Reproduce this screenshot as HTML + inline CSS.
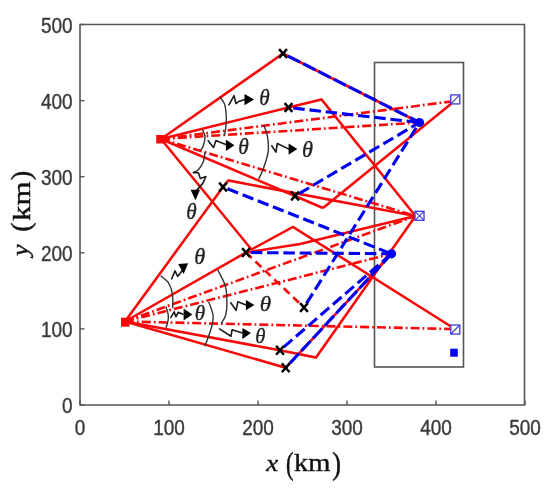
<!DOCTYPE html>
<html><head><meta charset="utf-8"><style>
html,body{margin:0;padding:0;background:#fff;}
svg{display:block;will-change:transform;}
.tk{font-family:"Liberation Sans",sans-serif;font-size:19px;fill:#3a3a3a;stroke:#3a3a3a;stroke-width:0.35px;}
.th{font-family:"Liberation Serif",serif;font-style:italic;font-size:100px;fill:#222;stroke:#222;stroke-width:1.5px;}
.lb{font-family:"Liberation Serif",serif;font-size:100px;fill:#111;stroke:#111;stroke-width:1.6px;}
.lbi{font-family:"Liberation Serif",serif;font-style:italic;font-size:100px;fill:#111;stroke:#111;stroke-width:1.6px;}
</style></head><body>
<svg width="550" height="490" viewBox="0 0 550 490">
<rect width="550" height="490" fill="#fff"/>
<rect x="374.5" y="62.5" width="89" height="304.5" fill="none" stroke="#555" stroke-width="1.6"/>
<line x1="161" y1="139" x2="451" y2="101.5" stroke="#f80808" stroke-width="2.6" stroke-dasharray="9 3 1.8 3" stroke-linecap="butt"/>
<line x1="161" y1="139" x2="419.5" y2="122.5" stroke="#f80808" stroke-width="2.6" stroke-dasharray="9 3 1.8 3" stroke-linecap="butt"/>
<line x1="161" y1="139" x2="415.5" y2="216" stroke="#f80808" stroke-width="2.6" stroke-dasharray="9 3 1.8 3" stroke-linecap="butt"/>
<line x1="125" y1="321.5" x2="415.5" y2="216" stroke="#f80808" stroke-width="2.6" stroke-dasharray="9 3 1.8 3" stroke-linecap="butt"/>
<line x1="125" y1="321.5" x2="391.5" y2="253.8" stroke="#f80808" stroke-width="2.6" stroke-dasharray="9 3 1.8 3" stroke-linecap="butt"/>
<line x1="125" y1="321.5" x2="451.5" y2="329" stroke="#f80808" stroke-width="2.6" stroke-dasharray="9 3 1.8 3" stroke-linecap="butt"/>
<polyline points="161,139 283,53.5 419.5,122.5" fill="none" stroke="#f80808" stroke-width="2.55" stroke-linejoin="miter"/>
<polyline points="161,139 288.5,107.5 321.5,99.5 415.5,216" fill="none" stroke="#f80808" stroke-width="2.55" stroke-linejoin="miter"/>
<polyline points="451.5,103.5 323,208" fill="none" stroke="#f80808" stroke-width="2.55" stroke-linejoin="miter"/>
<polyline points="161,139 295,196 323,208" fill="none" stroke="#f80808" stroke-width="2.55" stroke-linejoin="miter"/>
<polyline points="161,139 251.5,249.5 293,227 451,326.5" fill="none" stroke="#f80808" stroke-width="2.55" stroke-linejoin="miter"/>
<polyline points="125,321.5 223,187 228.4,180.5 415.5,216" fill="none" stroke="#f80808" stroke-width="2.55" stroke-linejoin="miter"/>
<polyline points="125,321.5 246,252.5 300,244.1 415.5,216" fill="none" stroke="#f80808" stroke-width="2.55" stroke-linejoin="miter"/>
<polyline points="125,321.5 280,350.3 316,357.5 415.5,216" fill="none" stroke="#f80808" stroke-width="2.55" stroke-linejoin="miter"/>
<polyline points="125,321.5 285.7,367.8 391.5,253.8" fill="none" stroke="#f80808" stroke-width="2.55" stroke-linejoin="miter"/>
<line x1="246" y1="252.5" x2="304" y2="307.5" stroke="#f80808" stroke-width="2.6" stroke-dasharray="8 5" stroke-linecap="butt"/>
<line x1="283" y1="53.5" x2="419.5" y2="122.5" stroke="#0000f0" stroke-width="3.1" stroke-dasharray="13.5 3.6" stroke-dashoffset="-5.6"/>
<line x1="285.7" y1="367.8" x2="391.5" y2="253.8" stroke="#0000f0" stroke-width="3.1" stroke-dasharray="13.5 3.6" stroke-dashoffset="-6"/>
<line x1="288.5" y1="107.5" x2="419.5" y2="122.5" stroke="#0000f0" stroke-width="3.1" stroke-dasharray="11.5 4.8" stroke-dashoffset="-4.8"/>
<line x1="295" y1="196" x2="419.5" y2="122.5" stroke="#0000f0" stroke-width="3.1" stroke-dasharray="11.5 4.8" stroke-dashoffset="-4.8"/>
<line x1="304" y1="307.5" x2="419.5" y2="122.5" stroke="#0000f0" stroke-width="3.1" stroke-dasharray="11.5 4.8" stroke-dashoffset="-4.8"/>
<line x1="223" y1="187" x2="391.5" y2="253.8" stroke="#0000f0" stroke-width="3.1" stroke-dasharray="11.5 4.8" stroke-dashoffset="-4.8"/>
<line x1="246" y1="252.5" x2="391.5" y2="253.8" stroke="#0000f0" stroke-width="3.1" stroke-dasharray="11.5 4.8" stroke-dashoffset="-4.8"/>
<line x1="280" y1="350.3" x2="391.5" y2="253.8" stroke="#0000f0" stroke-width="3.1" stroke-dasharray="11.5 4.8" stroke-dashoffset="-4.8"/>
<path d="M219.5,96.7C220.3,97.9 223.4,100.7 224.5,104C225.6,107.3 226.1,112.4 226.3,116.4C226.5,120.4 226.0,124.8 225.7,128C225.4,131.2 224.7,134.1 224.5,135.3" fill="none" stroke="#333" stroke-width="1.4"/>
<path d="M228.6,105.3 L234.1,95.7 L235.9,103.5 L238.6,101.6 L245,99.5" fill="none" stroke="#1a1a1a" stroke-width="1.6" stroke-linejoin="round"/>
<path d="M244.5,93.9 L244.5,105.3 L254.1,99.4Z" fill="#000"/>
<text x="0" y="0" class="th" transform="matrix(0.2119 0 0 0.2225 259.24 104.78)">θ</text>
<path d="M202.4,129.5C202.8,130.7 204.9,133.7 205,136.5C205.1,139.3 203.9,143.9 203.1,146.2C202.3,148.5 200.7,149.8 200.2,150.5" fill="none" stroke="#333" stroke-width="1.4"/>
<path d="M207.7,140.2 L213.6,147.5 L215.9,140.6 L219.5,142 L226.4,144.7" fill="none" stroke="#1a1a1a" stroke-width="1.6" stroke-linejoin="round"/>
<path d="M225.9,139.7 L225.9,151.1 L234.5,145.2Z" fill="#000"/>
<text x="0" y="0" class="th" transform="matrix(0.2143 0 0 0.2211 238.23 154.18)">θ</text>
<path d="M263.8,125.2C264.4,127.1 266.8,132.4 267.5,136.8C268.2,141.2 268.8,146.3 268.2,151.4C267.6,156.5 265.4,162.8 263.8,167.4C262.2,172.0 259.6,177.1 258.7,179" fill="none" stroke="#333" stroke-width="1.4"/>
<path d="M271.4,145.3 L275.9,152.1 L277.3,143.5 L289.5,149.4" fill="none" stroke="#1a1a1a" stroke-width="1.6" stroke-linejoin="round"/>
<path d="M288.6,143.5 L288.6,154.8 L297.3,148.9Z" fill="#000"/>
<text x="0" y="0" class="th" transform="matrix(0.2238 0 0 0.2338 301.88 156.97)">θ</text>
<path d="M205.1,151.5C204.8,153.1 204.6,158.3 203.5,161.3C202.4,164.3 200.4,167.6 198.6,169.5C196.8,171.4 193.8,172.2 192.9,172.8" fill="none" stroke="#333" stroke-width="1.4"/>
<path d="M192.9,172.6 L198.4,172.7 L200.3,178.4 L205.9,176.5 L202.8,183.4 L196.5,190.6" fill="none" stroke="#1a1a1a" stroke-width="1.6" stroke-linejoin="round"/>
<path d="M190.6,189.8 L200,189.8 L195.5,200.2Z" fill="#000"/>
<text x="0" y="0" class="th" transform="matrix(0.2119 0 0 0.2324 186.24 218.97)">θ</text>
<path d="M160.6,275.7C161.8,276.8 166.1,279.5 168,282.2C169.9,284.9 171.2,288.7 172,292C172.8,295.3 172.8,299.1 172.9,301.8C173.0,304.5 172.6,307.0 172.5,308" fill="none" stroke="#333" stroke-width="1.4"/>
<path d="M171.4,279.5 L175,270.9 L177.7,276.4 L182.3,270.5 L183,269.5" fill="none" stroke="#1a1a1a" stroke-width="1.6" stroke-linejoin="round"/>
<path d="M178.2,264.1 L183.6,274.1 L188.2,263.3Z" fill="#000"/>
<text x="0" y="0" class="th" transform="matrix(0.2238 0 0 0.2338 194.18 263.97)">θ</text>
<path d="M166,306.7C166.4,308.0 167.9,312.3 168.2,314.7C168.5,317.1 168.4,318.8 168,321C167.6,323.2 166.3,326.7 166,327.8" fill="none" stroke="#333" stroke-width="1.4"/>
<path d="M170.5,318.2 L174.1,311.8 L175.9,316.8 L178.2,312.3 L183.6,314.5" fill="none" stroke="#1a1a1a" stroke-width="1.6" stroke-linejoin="round"/>
<path d="M183.6,308.6 L183.6,320.5 L192.3,314.5Z" fill="#000"/>
<text x="0" y="0" class="th" transform="matrix(0.2119 0 0 0.2085 194.74 320.39)">θ</text>
<path d="M208.7,301.9C209.4,304.2 212.7,311.3 213.1,315.7C213.5,320.1 212.2,324.1 211.3,328C210.4,331.9 208.7,335.9 207.6,338.9C206.5,341.9 205.1,345.0 204.6,346.2" fill="none" stroke="#333" stroke-width="1.4"/>
<path d="M219,328.6 L231,336.2 L232.1,329.7 L242.4,333" fill="none" stroke="#1a1a1a" stroke-width="1.6" stroke-linejoin="round"/>
<path d="M242.4,328 L242.4,338.9 L251,333.1Z" fill="#000"/>
<text x="0" y="0" class="th" transform="matrix(0.2071 0 0 0.2000 255.26 342.90)">θ</text>
<path d="M217.8,270C219.1,272.8 224.0,280.9 225.5,286.6C227.0,292.3 226.9,299.2 226.9,304.1C226.9,309.0 226.5,312.4 225.5,315.7C224.5,319.0 221.8,322.4 221.1,323.7" fill="none" stroke="#333" stroke-width="1.4"/>
<path d="M230.4,302.3 L236.1,310.3 L237.9,301.7 L246,305" fill="none" stroke="#1a1a1a" stroke-width="1.6" stroke-linejoin="round"/>
<path d="M245.9,300 L245.9,310.3 L254.4,305.1Z" fill="#000"/>
<text x="0" y="0" class="th" transform="matrix(0.2310 0 0 0.2169 259.85 311.48)">θ</text>
<path d="M279.1,49.1L286.9,57.9M279.1,57.9L286.9,49.1" stroke="#000" stroke-width="2.4"/>
<path d="M284.6,103.1L292.4,111.9M284.6,111.9L292.4,103.1" stroke="#000" stroke-width="2.4"/>
<path d="M291.1,191.6L298.9,200.4M291.1,200.4L298.9,191.6" stroke="#000" stroke-width="2.4"/>
<path d="M219.1,182.6L226.9,191.4M219.1,191.4L226.9,182.6" stroke="#000" stroke-width="2.4"/>
<path d="M242.1,248.1L249.9,256.9M242.1,256.9L249.9,248.1" stroke="#000" stroke-width="2.4"/>
<path d="M300.1,303.1L307.9,311.9M300.1,311.9L307.9,303.1" stroke="#000" stroke-width="2.4"/>
<path d="M276.1,345.90000000000003L283.9,354.7M276.1,354.7L283.9,345.90000000000003" stroke="#000" stroke-width="2.4"/>
<path d="M281.8,363.40000000000003L289.59999999999997,372.2M281.8,372.2L289.59999999999997,363.40000000000003" stroke="#000" stroke-width="2.4"/>
<rect x="450.8" y="94.9" width="9.0" height="9.0" fill="#fff" stroke="#3a3ad8" stroke-width="1.3"/>
<path d="M450.8,103.9L459.8,94.9" stroke="#3a3ad8" stroke-width="1.1"/>
<rect x="415.0" y="211.3" width="9.0" height="9.0" fill="#fff" stroke="#3a3ad8" stroke-width="1.3"/>
<path d="M415.0,220.3L424.0,211.3" stroke="#3a3ad8" stroke-width="1.1"/>
<path d="M415.0,211.3L424.0,220.3" stroke="#3a3ad8" stroke-width="1.1"/>
<rect x="450.8" y="325.0" width="9.0" height="9.0" fill="#fff" stroke="#3a3ad8" stroke-width="1.3"/>
<path d="M450.8,334.0L459.8,325.0" stroke="#3a3ad8" stroke-width="1.1"/>
<circle cx="419.5" cy="122.5" r="4.6" fill="#0000f0"/>
<circle cx="391.5" cy="253.8" r="4.6" fill="#0000f0"/>
<rect x="450.2" y="348.7" width="7.6" height="8" fill="#0000f0"/>
<rect x="156.2" y="135" width="9.6" height="8.5" fill="#f80808"/>
<rect x="121" y="317.7" width="8.5" height="9" fill="#f80808"/>
<path d="M80,24.5H524.5V405H80Z" fill="none" stroke="#555" stroke-width="1.6"/>
<path d="M80,405V400.5" stroke="#555" stroke-width="1.4"/>
<path d="M80,405.0H84.5" stroke="#555" stroke-width="1.4"/>
<path d="M169,405V400.5" stroke="#555" stroke-width="1.4"/>
<path d="M80,328.9H84.5" stroke="#555" stroke-width="1.4"/>
<path d="M258,405V400.5" stroke="#555" stroke-width="1.4"/>
<path d="M80,252.8H84.5" stroke="#555" stroke-width="1.4"/>
<path d="M347,405V400.5" stroke="#555" stroke-width="1.4"/>
<path d="M80,176.7H84.5" stroke="#555" stroke-width="1.4"/>
<path d="M436,405V400.5" stroke="#555" stroke-width="1.4"/>
<path d="M80,100.6H84.5" stroke="#555" stroke-width="1.4"/>
<path d="M525,405V400.5" stroke="#555" stroke-width="1.4"/>
<path d="M80,24.5H84.5" stroke="#555" stroke-width="1.4"/>
<text x="80" y="435" text-anchor="middle" class="tk" transform="translate(0 435) scale(1 1.16) translate(0 -435)">0</text>
<text x="72.6" y="413.1" text-anchor="end" class="tk" transform="translate(0 413.1) scale(1 1.16) translate(0 -413.1)">0</text>
<text x="169" y="435" text-anchor="middle" class="tk" transform="translate(0 435) scale(1 1.16) translate(0 -435)">100</text>
<text x="72.6" y="337.0" text-anchor="end" class="tk" transform="translate(0 337.0) scale(1 1.16) translate(0 -337.0)">100</text>
<text x="258" y="435" text-anchor="middle" class="tk" transform="translate(0 435) scale(1 1.16) translate(0 -435)">200</text>
<text x="72.6" y="260.9" text-anchor="end" class="tk" transform="translate(0 260.9) scale(1 1.16) translate(0 -260.9)">200</text>
<text x="347" y="435" text-anchor="middle" class="tk" transform="translate(0 435) scale(1 1.16) translate(0 -435)">300</text>
<text x="72.6" y="184.8" text-anchor="end" class="tk" transform="translate(0 184.8) scale(1 1.16) translate(0 -184.8)">300</text>
<text x="436" y="435" text-anchor="middle" class="tk" transform="translate(0 435) scale(1 1.16) translate(0 -435)">400</text>
<text x="72.6" y="108.7" text-anchor="end" class="tk" transform="translate(0 108.7) scale(1 1.16) translate(0 -108.7)">400</text>
<text x="525" y="435" text-anchor="middle" class="tk" transform="translate(0 435) scale(1 1.16) translate(0 -435)">500</text>
<text x="72.6" y="32.6" text-anchor="end" class="tk" transform="translate(0 32.6) scale(1 1.16) translate(0 -32.6)">500</text>
<text x="0" y="0" class="lbi" transform="matrix(0.2689 0 0 0.2304 266.17 470.80)">x</text>
<text x="0" y="0" class="lb" transform="matrix(0.2269 0 0 0.3056 285.89 473.58)">(</text>
<text x="0" y="0" class="lb" transform="matrix(0.2847 0 0 0.2551 293.93 470.80)">km</text>
<text x="0" y="0" class="lb" transform="matrix(0.2615 0 0 0.3056 332.32 473.58)">)</text>
<g transform="rotate(-90)"><text x="0" y="0" class="lbi" transform="matrix(0.2577 0 0 0.2299 -256.04 28.17)">y</text><text x="0" y="0" class="lb" transform="matrix(0.2769 0 0 0.2756 -231.81 29.91)">(</text><text x="0" y="0" class="lb" transform="matrix(0.3081 0 0 0.2609 -221.02 29.50)">km</text><text x="0" y="0" class="lb" transform="matrix(0.2885 0 0 0.2756 -180.17 29.71)">)</text></g>
</svg>
</body></html>
